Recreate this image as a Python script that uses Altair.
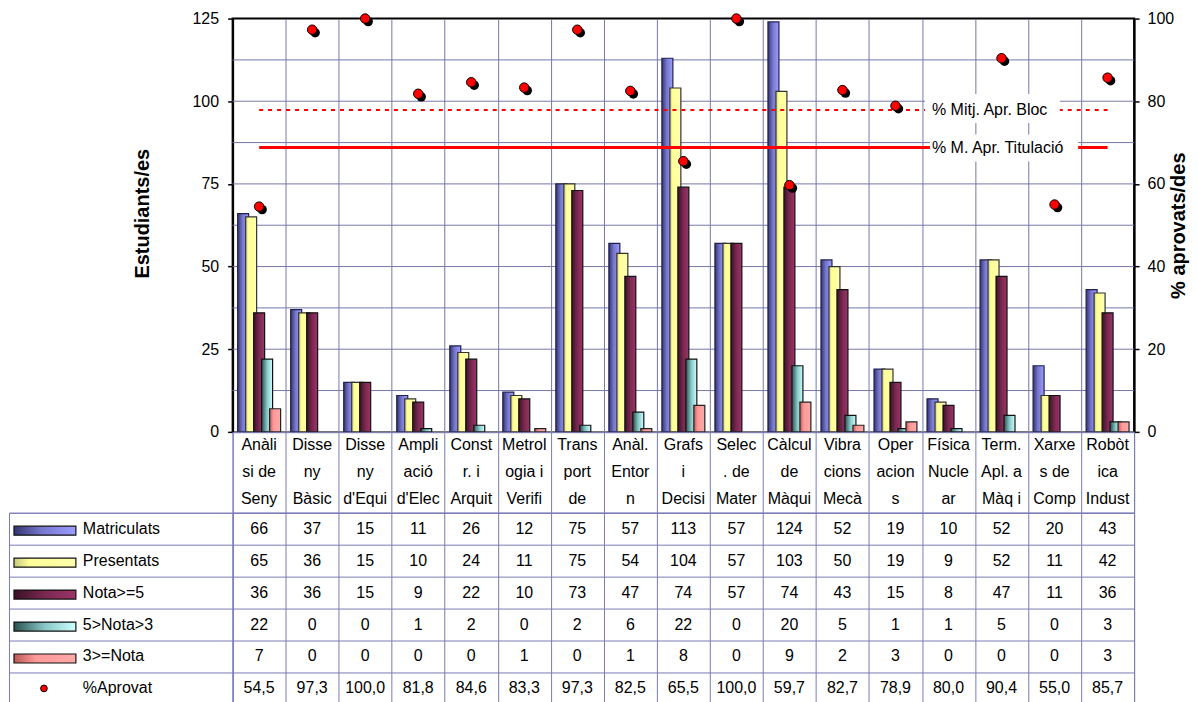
import altair as alt
import pandas as pd

FONT = "Liberation Sans"

HEADER_LINES = [
    ["Anàli", "si de", "Seny"],
    ["Disse", "ny", "Bàsic"],
    ["Disse", "ny", "d'Equi"],
    ["Ampli", "ació", "d'Elec"],
    ["Const", "r. i", "Arquit"],
    ["Metrol", "ogia i", "Verifi"],
    ["Trans", "port", "de"],
    ["Anàl.", "Entor", "n"],
    ["Grafs", "i", "Decisi"],
    ["Selec", ". de", "Mater"],
    ["Càlcul", "de", "Màqui"],
    ["Vibra", "cions", "Mecà"],
    ["Oper", "acion", "s"],
    ["Física", "Nucle", "ar"],
    ["Term.", "Apl. a", "Màq i"],
    ["Xarxe", "s de", "Comp"],
    ["Robòt", "ica", "Indust"],
]
CATS = [" ".join(l) for l in HEADER_LINES]

SERIES = ["Matriculats", "Presentats", "Nota>=5", "5>Nota>3", "3>=Nota"]
MATRICULATS = [66, 37, 15, 11, 26, 12, 75, 57, 113, 57, 124, 52, 19, 10, 52, 20, 43]
PRESENTATS = [65, 36, 15, 10, 24, 11, 75, 54, 104, 57, 103, 50, 19, 9, 52, 11, 42]
NOTA_GE5 = [36, 36, 15, 9, 22, 10, 73, 47, 74, 57, 74, 43, 15, 8, 47, 11, 36]
NOTA_3_5 = [22, 0, 0, 1, 2, 0, 2, 6, 22, 0, 20, 5, 1, 1, 5, 0, 3]
NOTA_LE3 = [7, 0, 0, 0, 0, 1, 0, 1, 8, 0, 9, 2, 3, 0, 0, 0, 3]
APROVAT = [54.5, 97.3, 100.0, 81.8, 84.6, 83.3, 97.3, 82.5, 65.5, 100.0, 59.7, 82.7, 78.9, 80.0, 90.4, 55.0, 85.7]
PCT_NAME = "%Aprovat"

REF_NAMES = ["% Mitj. Apr. Bloc", "% M. Apr. Titulació"]
REF_VALUES = [77.9, 68.8]
REF_ANCHOR = CATS[13]
REF_BOX_END = [CATS[15], CATS[16]]

LEFT_TICKS = [0, 25, 50, 75, 100, 125]
RIGHT_TICKS = [0, 20, 40, 60, 80, 100]
GRID_LEFT = [12.5, 25, 37.5, 50, 62.5, 75, 87.5, 100, 112.5]

SERIES_VALUES = [MATRICULATS, PRESENTATS, NOTA_GE5, NOTA_3_5, NOTA_LE3]
ROWS = SERIES + [PCT_NAME]

GRADIENTS = {
    "Matriculats": [(0, "#34346e"), (0.45, "#7878d0"), (1, "#9c9cff")],
    "Presentats": [(0, "#c8c880"), (0.25, "#ffff99"), (1, "#ffffaa")],
    "Nota>=5": [(0, "#3a1226"), (0.5, "#7a2850"), (1, "#9c3468")],
    "5>Nota>3": [(0, "#2c5050"), (0.5, "#88c8c8"), (1, "#ccffff")],
    "3>=Nota": [(0, "#b85858"), (0.35, "#ff9999"), (1, "#ffa8a8")],
}
STROKES = {
    "Matriculats": "#202050",
    "Presentats": "#333333",
    "Nota>=5": "#111111",
    "5>Nota>3": "#111111",
    "3>=Nota": "#222222",
}


def grad(name):
    return {
        "gradient": "linear", "x1": 0, "x2": 1, "y1": 0, "y2": 0,
        "stops": [{"offset": o, "color": c} for o, c in GRADIENTS[name]],
    }


GRIDC = "#7676aa"
TABC = "#7a7ab6"
PLOT_W, PLOT_H = 903, 414
HDR_H, TAB_H, LEG_W = 81, 192, 224

# ---------- data frames ----------
bars_df = pd.DataFrame([
    {"cat": c, "series": s, "value": v}
    for s, vals in zip(SERIES, SERIES_VALUES)
    for c, v in zip(CATS, vals)
])
pct_df = pd.DataFrame({"cat": CATS, "pct": APROVAT})
ref_df = pd.DataFrame([
    {"cat": c, "pct": v, "name": n}
    for n, v in zip(REF_NAMES, REF_VALUES)
    for c in (CATS[0], CATS[-1])
])
ref_lbl_df = pd.DataFrame({"cat": [REF_ANCHOR] * 2, "cat_end": REF_BOX_END,
                           "pct": REF_VALUES, "name": REF_NAMES})
grid_df = pd.DataFrame({"value": GRID_LEFT})
header_df = pd.DataFrame([
    {"cat": c, "line": i, "text": t}
    for c, lines in zip(CATS, HEADER_LINES)
    for i, t in enumerate(lines)
])
table_rows = []
for s, vals in zip(SERIES, SERIES_VALUES):
    for c, v in zip(CATS, vals):
        table_rows.append({"cat": c, "row": s, "text": str(v)})
for c, v in zip(CATS, APROVAT):
    table_rows.append({"cat": c, "row": PCT_NAME, "text": f"{v:.1f}".replace(".", ",")})
table_df = pd.DataFrame(table_rows)
legend_df = pd.DataFrame({"row": ROWS})

# ---------- shared encodings ----------
x_scale = alt.Scale(domain=CATS, paddingInner=0, paddingOuter=0)
x_axis = alt.Axis(title=None, labels=False, ticks=False, grid=True, tickBand="extent",
                  gridColor=GRIDC, gridWidth=1, domainColor="#9a9a9a", domainWidth=2)
x_plot = alt.X("cat:N", sort=CATS, scale=x_scale, axis=x_axis)
y_left_scale = alt.Scale(domain=[0, 125], nice=False, zero=True)
y_left_axis = alt.Axis(
    values=LEFT_TICKS, title="Estudiants/es", grid=False, tickSize=5, tickColor="black",
    tickWidth=1.5, domainColor="black", domainWidth=2, labelPadding=9, labelFontSize=16,
    labelColor="black", titleFontSize=20, titleFontWeight="bold", titleColor="black",
    titlePadding=40, titleY=195, labelFont=FONT, titleFont=FONT,
)
y_right_scale = alt.Scale(domain=[0, 100], nice=False, zero=True)
y_right_axis = alt.Axis(
    orient="right", values=RIGHT_TICKS, title="% aprovats/des", grid=False, tickSize=5,
    tickColor="black", tickWidth=1.5, domainColor="black", domainWidth=2, labelPadding=8,
    labelFontSize=16, labelColor="black", titleFontSize=20, titleFontWeight="bold",
    titleColor="black", titleAngle=270, titlePadding=15, labelFont=FONT, titleFont=FONT,
)
y_left = alt.Y("value:Q", scale=y_left_scale, axis=y_left_axis)
y_right = alt.Y("pct:Q", scale=y_right_scale, axis=y_right_axis)

# ---------- plot (bars, points, reference lines) ----------
grid_layer = alt.Chart(grid_df).mark_rule(color=GRIDC, strokeWidth=1).encode(y=y_left)

bar_layers = []
for s in SERIES:
    bar_layers.append(
        alt.Chart(bars_df)
        .transform_filter((alt.datum.series == s) & (alt.datum.value > 0))
        .mark_bar(width=11, fill=grad(s), stroke=STROKES[s], strokeWidth=1.2)
        .encode(
            x=x_plot,
            xOffset=alt.XOffset("series:N", sort=SERIES,
                                scale=alt.Scale(domain=SERIES, paddingInner=0, paddingOuter=0.82)),
            y=y_left,
        )
    )
left = alt.layer(grid_layer, *bar_layers)

ref_solid = (
    alt.Chart(ref_df).transform_filter(alt.datum.name == REF_NAMES[1])
    .mark_line(color="#ff0000", strokeWidth=3)
    .encode(x=x_plot, y=y_right)
)
ref_dash = (
    alt.Chart(ref_df).transform_filter(alt.datum.name == REF_NAMES[0])
    .mark_line(color="#ff0000", strokeWidth=2, strokeDash=[4, 5])
    .encode(x=x_plot, y=y_right)
)
x_lbl = alt.X("cat:N", sort=CATS, scale=x_scale, bandPosition=0, axis=x_axis)
box1 = (
    alt.Chart(ref_lbl_df).transform_filter(alt.datum.name == REF_NAMES[0])
    .mark_rect(color="white", xOffset=3, yOffset=-16, y2Offset=13)
    .encode(x=x_lbl, x2=alt.X2("cat_end", bandPosition=0.6), y=y_right, y2="pct")
)
box2 = (
    alt.Chart(ref_lbl_df).transform_filter(alt.datum.name == REF_NAMES[1])
    .mark_rect(color="white", xOffset=8, x2Offset=-3, yOffset=-13, y2Offset=14)
    .encode(x=x_lbl, x2=alt.X2("cat_end", bandPosition=0), y=y_right, y2="pct")
)
lbl_text = (
    alt.Chart(ref_lbl_df)
    .mark_text(align="left", baseline="middle", dx=10, font=FONT, fontSize=16, color="black")
    .encode(x=x_lbl, y=y_right, text="name:N")
)
pt_shadow = (
    alt.Chart(pct_df)
    .mark_circle(size=90, color="black", opacity=1, xOffset=3, yOffset=3)
    .encode(x=x_plot, y=y_right)
)
pt_main = (
    alt.Chart(pct_df)
    .mark_circle(size=90, color="#ff0000", opacity=1, stroke="black", strokeWidth=1)
    .encode(x=x_plot, y=y_right)
)
right = alt.layer(ref_dash, ref_solid, pt_shadow, pt_main, box1, box2, lbl_text)

plot = (
    alt.layer(left, right)
    .resolve_scale(y="independent")
    .properties(width=PLOT_W, height=PLOT_H,
                view=alt.ViewBackground(stroke="black", strokeWidth=2))
)

# ---------- spacers ----------
def spacer(h):
    return (
        alt.Chart(pd.DataFrame({"a": [0]}))
        .mark_point(opacity=0, size=1)
        .encode(x=alt.value(LEG_W / 2), y=alt.value(h / 2))
        .properties(width=LEG_W, height=h, view=alt.ViewBackground(stroke="transparent"))
    )

# ---------- header ----------
x_tab = alt.X(
    "cat:N", sort=CATS, scale=x_scale,
    axis=alt.Axis(title=None, labels=False, ticks=False, domain=False, grid=True,
                  tickBand="extent", gridColor=TABC, gridWidth=1),
)
header = (
    alt.Chart(header_df)
    .mark_text(font=FONT, fontSize=16, baseline="middle", color="black")
    .encode(
        x=x_tab,
        y=alt.Y("line:O", scale=alt.Scale(paddingInner=0, paddingOuter=0.1875), axis=None),
        text="text:N",
    )
    .properties(width=PLOT_W, height=HDR_H, view=alt.ViewBackground(stroke=TABC, strokeWidth=1))
)

# ---------- table ----------
def y_rows(orient):
    return alt.Y(
        "row:N", sort=ROWS, scale=alt.Scale(domain=ROWS, paddingInner=0, paddingOuter=0),
        axis=alt.Axis(orient=orient, title=None, labels=False, ticks=False, domain=False,
                      grid=True, tickBand="extent", gridColor=TABC, gridWidth=1),
    )

table = (
    alt.Chart(table_df)
    .mark_text(font=FONT, fontSize=16, baseline="middle", color="black")
    .encode(x=x_tab, y=y_rows("right"), text="text:N")
    .properties(width=PLOT_W, height=TAB_H, view=alt.ViewBackground(stroke=TABC, strokeWidth=1))
)

# ---------- legend column ----------
leg_layers = []
for s in SERIES:
    leg_layers.append(
        alt.Chart(legend_df)
        .transform_filter(alt.datum.row == s)
        .mark_bar(height=9, fill=grad(s), stroke="#111111", strokeWidth=1.2, yOffset=2)
        .encode(x=alt.value(5), x2=alt.value(67), y=y_rows("right"))
    )
leg_dot = (
    alt.Chart(legend_df)
    .transform_filter(alt.datum.row == PCT_NAME)
    .mark_circle(size=45, color="#ff0000", opacity=1, stroke="black", strokeWidth=1)
    .encode(x=alt.value(35), y=y_rows("right"))
)
leg_text = (
    alt.Chart(legend_df)
    .mark_text(font=FONT, fontSize=16, align="left", baseline="middle", color="black")
    .encode(x=alt.value(74), y=y_rows("right"), text="row:N")
)
legend = (
    alt.layer(*leg_layers, leg_dot, leg_text)
    .properties(width=LEG_W, height=TAB_H, view=alt.ViewBackground(stroke=TABC, strokeWidth=1))
)

chart = (
    alt.concat(spacer(PLOT_H), plot, spacer(HDR_H), header, legend, table,
               columns=2, spacing=0, bounds="flush")
    .properties(padding={"left": 0, "top": 1, "right": 0, "bottom": 0})
    .configure(font=FONT)
)

chart.save("out.html", embed_options={"renderer": "svg", "actions": False})
